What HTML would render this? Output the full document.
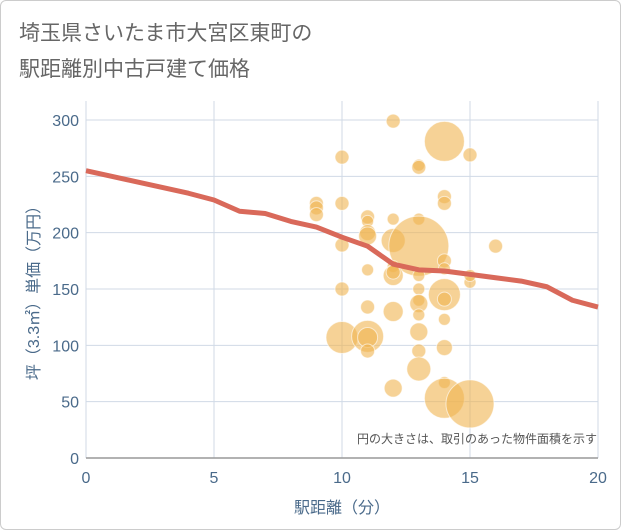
<!DOCTYPE html>
<html><head><meta charset="utf-8"><style>
body{margin:0;background:#fff;font-family:"Liberation Sans","Noto Sans CJK JP",sans-serif;}
#wrap{position:relative;width:619px;height:528px;border:1px solid #ccc;border-radius:6px;overflow:hidden;background:#fff}
</style></head><body>
<div id="wrap">
<svg id="chart" width="621" height="530">
<text x="18" y="39" font-size="21" fill="#666" font-family="Liberation Sans,Noto Sans CJK JP,sans-serif">埼玉県さいたま市大宮区東町の</text>
<text x="18" y="75" font-size="21" fill="#666" font-family="Liberation Sans,Noto Sans CJK JP,sans-serif">駅距離別中古戸建て価格</text>
<g id="grid"></g><g id="bubbles"></g><g id="trend"></g><g id="axes"></g>
<text x="596" y="442" font-size="12" fill="#555" text-anchor="end" font-family="Liberation Sans,Noto Sans CJK JP,sans-serif">円の大きさは、取引のあった物件面積を示す</text>
<text x="341" y="512" font-size="16" fill="#4a6a8a" text-anchor="middle" font-family="Liberation Sans,Noto Sans CJK JP,sans-serif">駅距離（分）</text>
<text transform="translate(38,288) rotate(-90)" font-size="16" fill="#4a6a8a" text-anchor="middle" font-family="Liberation Sans,Noto Sans CJK JP,sans-serif">坪（3.3㎡）単価（万円）</text>
</svg></div>
<script>
const xTicks=[0,5,10,15,20];
const yTicks=[0,50,100,150,200,250,300];
const bubbleX=[12,14,10,15,13,13,14,14,9,9,9,10,11,11,11,11,12,13,12,13,10,16,14,14,12,11,12,12,13,13,13,13,14,14,10,15,15,11,12,13,14,10,11,11,11,13,13,13,14,14,12,14,15];
const bubbleY=[299,281,267,269,260,258,232,226,226,222,216,226,214,210,200,197,212,212,193,188,189,188,175,168,170,167,162,165,162,150,140,137,145,141,150,156,162,134,130,127,123,107,108,107,95,112,95,79,98,67,62,53,48];
const bubbleR=[7,20,7,7,6,7,7,7,7,7,7,7,7,6,8,9,6,6,12,30,7,7,7,6,6,6,10,7,6,6,6,9,16,7,7,6,6,7,10,6,6,16,16,10,7,9,7,12,8,6,9,20,24];
const trendX=[0,1,2,3,4,5,6,7,8,9,10,11,12,13,14,15,16,17,18,19,20];
const trendY=[255,250,245,240,235,229,219,217,210,205,196,188,172,167,166,163,160,157,152,140,134];
const L=85,R=597,T=100,B=457;
const sx=v=>L+(v-0)/20*(R-L);
const sy=v=>B-v/300*(B-119);
const NS="http://www.w3.org/2000/svg";
function mk(tag,attrs,parent){const e=document.createElementNS(NS,tag);for(const k in attrs)e.setAttribute(k,attrs[k]);parent.appendChild(e);return e;}
const grid=document.getElementById('grid'),axes=document.getElementById('axes');
xTicks.forEach(t=>{
 const l=mk('line',{x1:sx(t),x2:sx(t),y1:T,y2:B,stroke:'#d0dae6','stroke-width':1},grid);
 
 
 const tx=mk('text',{x:sx(t),y:482,'font-size':16,fill:'#4a6a8a','text-anchor':'middle'},axes);
 tx.textContent=t;
 
 
});
yTicks.forEach(t=>{
 const l=mk('line',{x1:L,x2:R,y1:sy(t),y2:sy(t),stroke:'#d0dae6','stroke-width':1},grid);
 
 
 const tx=mk('text',{x:78,y:sy(t)+6,'font-size':16,fill:'#4a6a8a','text-anchor':'end'},axes);
 tx.textContent=t;
 
 
});
const xa=mk('line',{x1:L,x2:R,y1:B,y2:B,stroke:'#999','stroke-width':1.5},axes);


const bg=document.getElementById('bubbles');
bubbleX.forEach((x,i)=>{
 const c=mk('circle',{cx:sx(x),cy:sy(bubbleY[i]),r:bubbleR[i],fill:'rgba(240,180,80,0.6)',stroke:'rgba(255,255,255,0.6)','stroke-width':1},bg);
 
 
});
const p=mk('polyline',{points:trendX.map((x,i)=>sx(x)+','+sy(trendY[i])).join(' '),fill:'none',stroke:'#d9695a','stroke-width':5,'stroke-linejoin':'round'},document.getElementById('trend'));


</script>
</body></html>
